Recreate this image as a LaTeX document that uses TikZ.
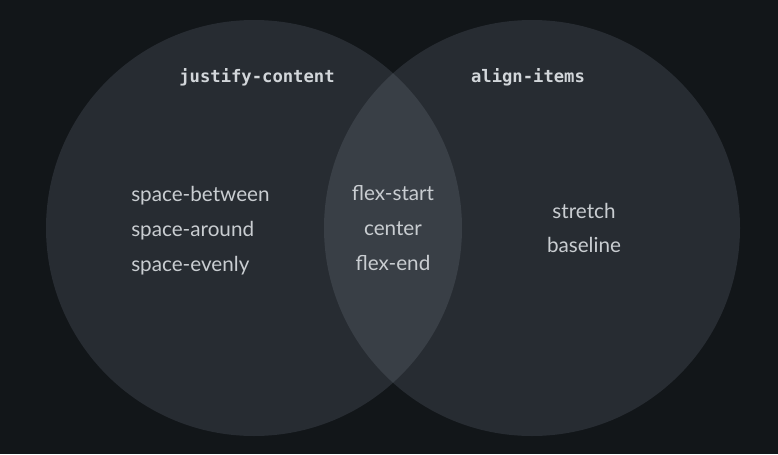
\documentclass[tikz,border=0pt]{standalone}
\usepackage{fontspec}
\setmainfont{Lato}
\newfontfamily\labelmono{DejaVu Sans Mono}
\definecolor{bgc}{HTML}{121619}
\definecolor{circc}{HTML}{272C32}
\definecolor{interc}{HTML}{393F46}
\definecolor{labc}{HTML}{D2D6DA}
\definecolor{txtc}{HTML}{C9CDD1}
\tikzset{
  setcirc/.style={fill=circc, draw=none},
  setlabel/.style={text=labc, font=\labelmono\bfseries\fontsize{12.9}{14}\selectfont, inner sep=0pt},
  item/.style={text=txtc, font=\fontsize{15.5}{18}\selectfont, inner sep=0pt},
}
\begin{document}
\begin{tikzpicture}[x=0.75pt,y=-0.75pt]
\fill[bgc] (0,0) rectangle (778,454);
\useasboundingbox (0,0) rectangle (778,454);
\path[setcirc] (254,228) circle[radius=208];
\path[setcirc] (532,228) circle[radius=208];
\begin{scope}
\clip (254,228) circle[radius=208];
\fill[interc] (532,228) circle[radius=208];
\end{scope}
\node[setlabel] (jc) at (257,77) {justify-content};
\node[setlabel] (ai) at (528,77) {align-items};
\node[item, anchor=west] (sb) at (131,195.5) {space-between};
\node[item, anchor=west] (sa) at (131,230.5) {space-around};
\node[item, anchor=west] (se) at (131,265.5) {space-evenly};
\node[item] (fs) at (393,193) {flex-start};
\node[item] (ce) at (393,229) {center};
\node[item] (fe) at (393,263) {flex-end};
\node[item] (st) at (584,211) {stretch};
\node[item] (bl) at (584,245) {baseline};
\end{tikzpicture}
\end{document}
